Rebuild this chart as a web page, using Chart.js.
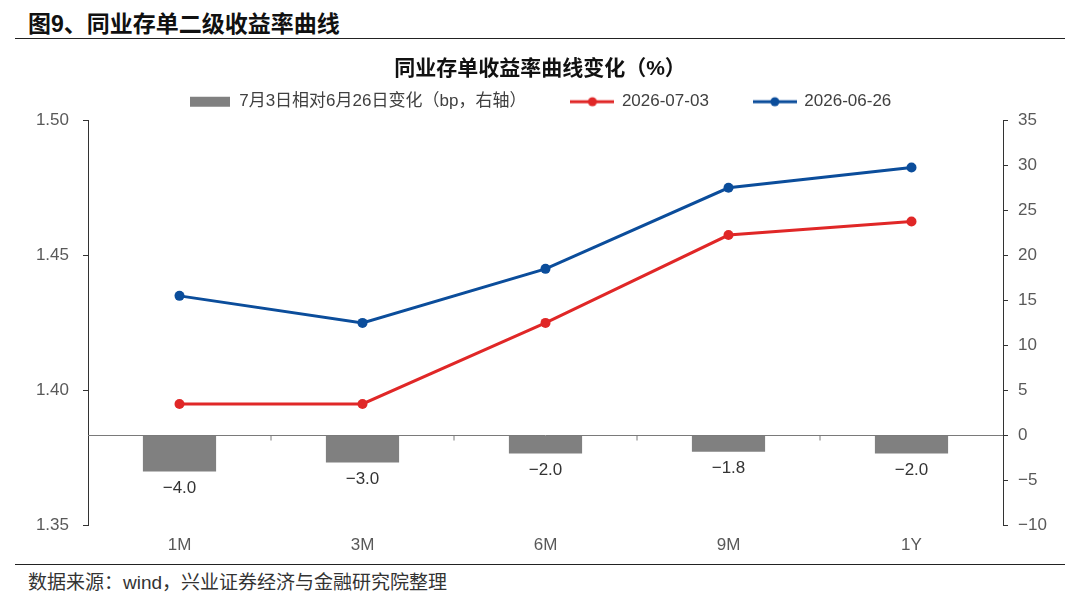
<!DOCTYPE html>
<html>
<head>
<meta charset="utf-8">
<script src="https://cdn.jsdelivr.net/npm/chart.js@4/dist/chart.umd.min.js"></script>
<style>
  body { margin: 0; width: 1080px; height: 601px; background: #fff; position: relative; overflow: hidden;
         font-family: "Liberation Sans", "Noto Sans CJK SC", sans-serif; }
  #head { position: absolute; left: 28px; top: 5px; font-size: 23px; font-weight: bold; color: #111; }
  #line1 { position: absolute; left: 15px; right: 15px; top: 38px; border-top: 1.5px solid #222; }
  #line2 { position: absolute; left: 15px; right: 15px; top: 564px; border-top: 1.5px solid #222; }
  #src { position: absolute; left: 28px; top: 567px; font-size: 19px; color: #333; }
  #wrap { position: absolute; left: 0; top: 40px; width: 1080px; height: 518px; }
</style>
</head>
<body>
<div id="head">图9、同业存单二级收益率曲线</div>
<div id="line1"></div>
<div id="wrap"><canvas id="chart"></canvas></div>
<div id="line2"></div>
<div id="src">数据来源：wind，兴业证券经济与金融研究院整理</div>
<script>
const tenors = ['1M', '3M', '6M', '9M', '1Y'];
const yield0703 = [1.395, 1.395, 1.425, 1.4575, 1.4625];
const yield0626 = [1.435, 1.425, 1.445, 1.475, 1.4825];
const changeBp = [-4.0, -3.0, -2.0, -1.8, -2.0];

const RED = '#e02727';
const BLUE = '#0b4d9b';
const GRAY = '#808080';
const FONT = '"Liberation Sans", "Noto Sans CJK SC", sans-serif';

function swatch(kind, color) {
  const c = document.createElement('canvas');
  c.width = kind === 'bar' ? 40 : 44; c.height = 12;
  const g = c.getContext('2d');
  if (kind === 'bar') {
    g.fillStyle = color;
    g.fillRect(0, 1, 40, 10);
  } else {
    g.strokeStyle = color; g.lineWidth = 3;
    g.beginPath(); g.moveTo(0, 6); g.lineTo(44, 6); g.stroke();
    g.fillStyle = color;
    g.beginPath(); g.arc(22, 6, 4.5, 0, Math.PI * 2); g.fill();
  }
  return c;
}
const swatches = [swatch('bar', GRAY), swatch('line', RED), swatch('line', BLUE)];

const minus = v => String(v).replace('-', '−');

const zeroAxis = {
  id: 'zeroAxis',
  afterDatasetsDraw(chart) {
    const { ctx, chartArea, scales } = chart;
    const y = scales.y1.getPixelForValue(0);
    ctx.save();
    ctx.strokeStyle = '#7a7a7a';
    ctx.lineWidth = 1;
    ctx.beginPath();
    ctx.moveTo(chartArea.left, y);
    ctx.lineTo(chartArea.right, y);
    for (let i = 0; i < tenors.length - 1; i++) {
      const x = (scales.x.getPixelForValue(i) + scales.x.getPixelForValue(i + 1)) / 2;
      ctx.moveTo(x, y);
      ctx.lineTo(x, y + 5);
    }
    ctx.stroke();

    // bar value labels under each bar
    const meta = chart.getDatasetMeta(0);
    ctx.fillStyle = '#333';
    ctx.font = '17px ' + FONT;
    ctx.textAlign = 'center';
    ctx.textBaseline = 'middle';
    meta.data.forEach((bar, i) => {
      ctx.fillText(minus(changeBp[i].toFixed(1)), bar.x, bar.y + 17);
    });
    ctx.restore();
  }
};

new Chart(document.getElementById('chart'), {
  data: {
    labels: tenors,
    datasets: [
      {
        type: 'bar',
        label: '7月3日相对6月26日变化（bp，右轴）',
        data: changeBp,
        yAxisID: 'y1',
        backgroundColor: GRAY,
        categoryPercentage: 1,
        barPercentage: 0.4
      },
      {
        type: 'line',
        label: '2026-07-03',
        data: yield0703,
        yAxisID: 'y',
        borderColor: RED,
        backgroundColor: RED,
        borderWidth: 3,
        pointRadius: 5,
        pointBorderWidth: 0,
        tension: 0
      },
      {
        type: 'line',
        label: '2026-06-26',
        data: yield0626,
        yAxisID: 'y',
        borderColor: BLUE,
        backgroundColor: BLUE,
        borderWidth: 3,
        pointRadius: 5,
        pointBorderWidth: 0,
        tension: 0
      }
    ]
  },
  options: {
    responsive: true,
    maintainAspectRatio: false,
    animation: false,
    layout: { padding: 0 },
    plugins: {
      title: {
        display: true,
        text: '同业存单收益率曲线变化（%）',
        color: '#111',
        font: { family: FONT, size: 21, weight: 'bold' },
        padding: { top: 17, bottom: -34 }
      },
      legend: {
        position: 'top',
        labels: {
          color: '#404040',
          font: { family: FONT, size: 17 },
          usePointStyle: true,
          pointStyleWidth: 42,
          padding: 45,
          generateLabels(chart) {
            return chart.data.datasets.map((ds, i) => ({
              text: ds.label,
              pointStyle: swatches[i],
              fontColor: '#404040',
              datasetIndex: i,
              hidden: false,
              lineWidth: 0
            }));
          }
        }
      },
      tooltip: { enabled: false }
    },
    scales: {
      x: {
        grid: { display: false },
        border: { display: false },
        ticks: { color: '#595959', font: { family: FONT, size: 17 }, padding: 2 }
      },
      y: {
        position: 'left',
        min: 1.35,
        max: 1.50,
        afterBuildTicks(scale) {
          scale.ticks = [1.35, 1.40, 1.45, 1.50].map(v => ({ value: v }));
        },
        afterFit(scale) { scale.width = 88; },
        grid: { drawOnChartArea: false, drawTicks: true, tickLength: 5, tickColor: '#333' },
        border: { display: true, color: '#333', width: 1 },
        ticks: {
          color: '#595959',
          font: { family: FONT, size: 17 },
          padding: 14,
          callback: v => Number(v).toFixed(2)
        }
      },
      y1: {
        position: 'right',
        min: -10,
        max: 35,
        afterFit(scale) { scale.width = 77; },
        grid: { drawOnChartArea: false, drawTicks: true, tickLength: 5, tickColor: '#333' },
        border: { display: true, color: '#333', width: 1 },
        ticks: {
          stepSize: 5,
          color: '#595959',
          font: { family: FONT, size: 17 },
          padding: 10,
          callback: v => minus(v)
        }
      }
    }
  },
  plugins: [zeroAxis]
});
</script>
</body>
</html>
